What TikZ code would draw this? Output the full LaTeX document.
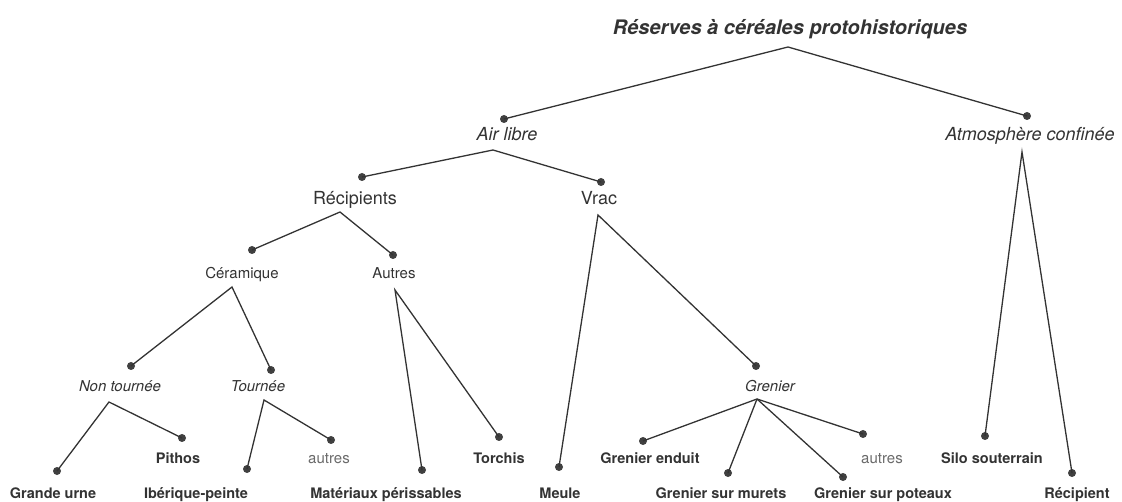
\documentclass[tikz,border=0pt]{standalone}
\usepackage{fontspec}
\setmainfont{TeX Gyre Heros}
\definecolor{ink}{HTML}{333333}
\definecolor{dotc}{HTML}{404040}
\definecolor{soft}{HTML}{6A6A6A}
\begin{document}
\begin{tikzpicture}[x=1pt,y=-1pt,
  lbl/.style={inner sep=0pt,anchor=base,text=ink},
  ttl/.style={lbl,font=\fontsize{20}{22}\selectfont\bfseries\itshape},
  lone/.style={lbl,font=\fontsize{18}{20}\selectfont\itshape},
  ltwo/.style={lbl,font=\fontsize{18}{20}\selectfont},
  lthree/.style={lbl,font=\fontsize{15}{17}\selectfont},
  lfour/.style={lbl,font=\fontsize{15}{17}\selectfont\itshape},
  leaf/.style={lbl,font=\fontsize{14.5}{16}\selectfont\bfseries},
  other/.style={lbl,text=soft,font=\fontsize{15}{17}\selectfont},
  pt/.style={circle,fill=dotc,inner sep=0pt,minimum size=8pt},
  edge/.style={draw=ink,line width=1.3pt}]
\useasboundingbox (0,0) rectangle (1122,502);
% title
\node[ttl] (root) at (790,35) {Réserves à céréales protohistoriques};
\coordinate (root-a) at (788,47);
% level 1
\node[pt] (air-d) at (504,119) {};
\node[lone] (air) at (507,140.5) {Air libre};
\coordinate (air-a) at (493,150);
\node[pt] (atm-d) at (1027,116) {};
\node[lone] (atm) at (1030,140.5) {Atmosphère confinée};
\coordinate (atm-a) at (1022,152);
% level 2
\node[pt] (rec-d) at (362,177) {};
\node[ltwo] (rec) at (355,204.5) {Récipients};
\coordinate (rec-a) at (340,212);
\node[pt] (vrac-d) at (601,182) {};
\node[ltwo] (vrac) at (599,204.5) {Vrac};
\coordinate (vrac-a) at (598,215);
% level 3
\node[pt] (cer-d) at (252,250) {};
\node[lthree] (cer) at (242,278.5) {Céramique};
\coordinate (cer-a) at (232,287);
\node[pt] (aut-d) at (393,255) {};
\node[lthree] (aut) at (394,278.5) {Autres};
\coordinate (aut-a) at (395,290);
% level 4
\node[pt] (nt-d) at (131,366) {};
\node[lfour] (nt) at (120,391.5) {Non tournée};
\coordinate (nt-a) at (109,402);
\node[pt] (tr-d) at (271,370) {};
\node[lfour] (tr) at (258,391.5) {Tournée};
\coordinate (tr-a) at (264,400);
\node[pt] (gr-d) at (756,366) {};
\node[lfour] (gr) at (770,391.5) {Grenier};
\coordinate (gr-a) at (757,399);
% leaves
\node[pt] (gu-d) at (57,471) {};
\node[leaf] (gu) at (53,498) {Grande urne};
\node[pt] (pi-d) at (182,438) {};
\node[leaf] (pi) at (178,463) {Pithos};
\node[pt] (ib-d) at (247,469) {};
\node[leaf] (ib) at (196,498) {Ibérique-peinte};
\node[pt] (au2-d) at (331,440) {};
\node[other] (au2) at (329,463) {autres};
\node[pt] (ma-d) at (422,470) {};
\node[leaf] (ma) at (386,498) {Matériaux périssables};
\node[pt] (to-d) at (499,437) {};
\node[leaf] (to) at (499,463) {Torchis};
\node[pt] (me-d) at (559,467) {};
\node[leaf] (me) at (560,498) {Meule};
\node[pt] (ge-d) at (643,441) {};
\node[leaf] (ge) at (650,463) {Grenier enduit};
\node[pt] (gm-d) at (728,473) {};
\node[leaf] (gm) at (721,498) {Grenier sur murets};
\node[pt] (gp-d) at (843,477) {};
\node[leaf] (gp) at (883,498) {Grenier sur poteaux};
\node[pt] (au3-d) at (863,434) {};
\node[other] (au3) at (882,463) {autres};
\node[pt] (si-d) at (985,436) {};
\node[leaf] (si) at (992,463) {Silo souterrain};
\node[pt] (re-d) at (1072,473) {};
\node[leaf] (re) at (1077,498) {Récipient};
% connectors
\path[edge] (air-d.center) -- (root-a) -- (atm-d.center);
\path[edge] (rec-d.center) -- (air-a) -- (vrac-d.center);
\path[edge] (si-d.center) -- (atm-a) -- (re-d.center);
\path[edge] (cer-d.center) -- (rec-a) -- (aut-d.center);
\path[edge] (me-d.center) -- (vrac-a) -- (gr-d.center);
\path[edge] (nt-d.center) -- (cer-a) -- (tr-d.center);
\path[edge] (ma-d.center) -- (aut-a) -- (to-d.center);
\path[edge] (gu-d.center) -- (nt-a) -- (pi-d.center);
\path[edge] (ib-d.center) -- (tr-a) -- (au2-d.center);
\path[edge] (gr-a) -- (ge-d.center);
\path[edge] (gr-a) -- (gm-d.center);
\path[edge] (gr-a) -- (gp-d.center);
\path[edge] (gr-a) -- (au3-d.center);
\end{tikzpicture}
\end{document}
